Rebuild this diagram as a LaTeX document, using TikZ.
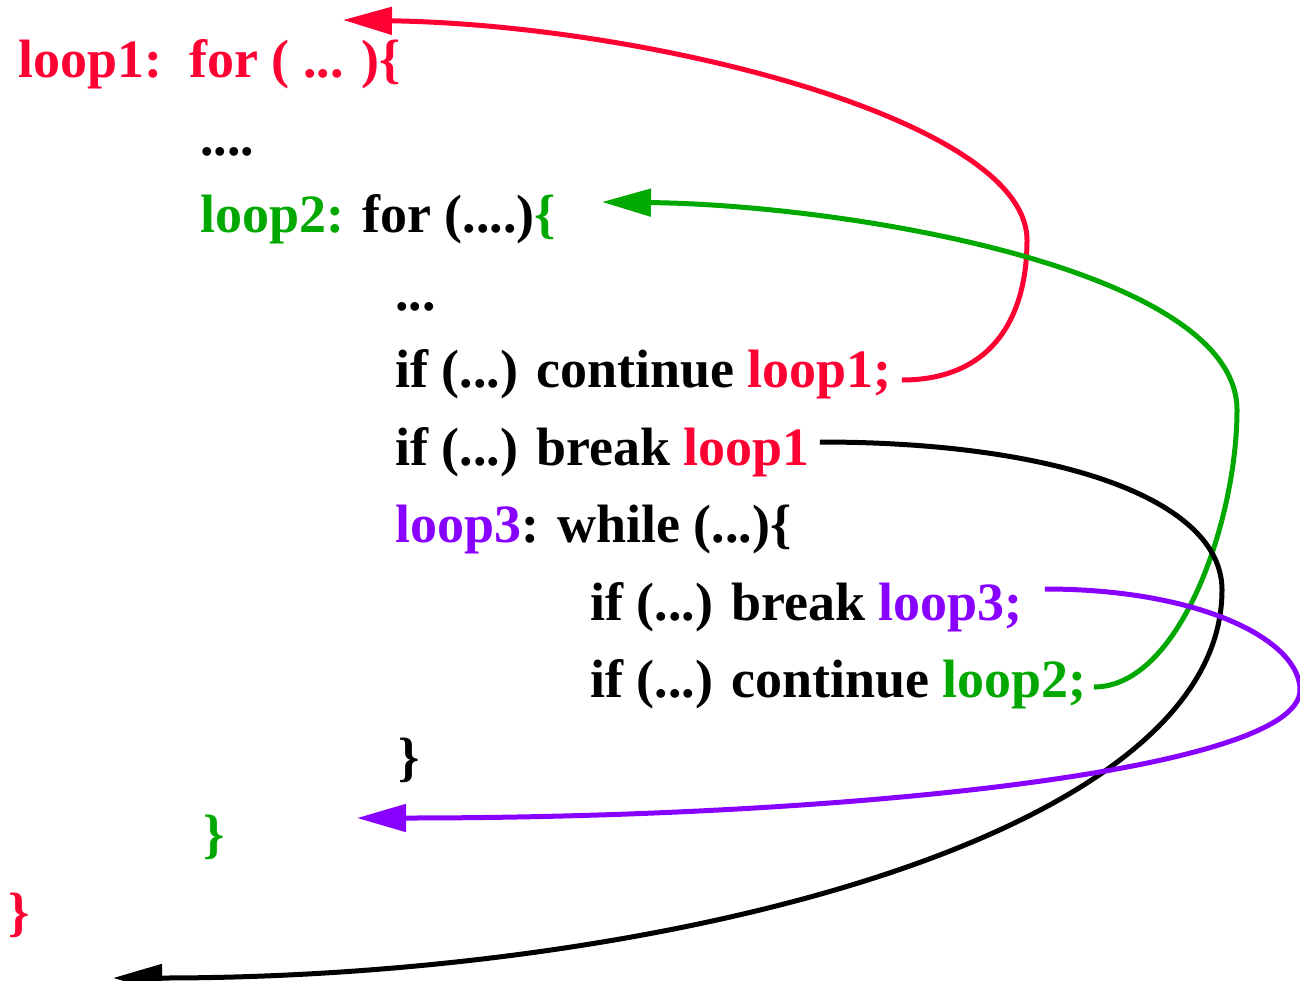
\documentclass[tikz,border=0pt]{standalone}
\usepackage{fontspec}
\setmainfont{Liberation Serif}
\usetikzlibrary{arrows.meta, calc}

\definecolor{loopred}{RGB}{255,0,51}
\definecolor{loopgreen}{RGB}{0,168,0}
\definecolor{looppurple}{RGB}{136,0,255}

\begin{document}
\begin{tikzpicture}[x=1pt, y=-1pt,
        codeline/.style={anchor=base west, inner sep=0pt, font=\fontsize{54}{65}\selectfont\bfseries},
        jump/.style={-{Triangle[length=49pt, width=27pt]}, line width=5pt},
    ]
        \useasboundingbox (0,0) rectangle (1300,980);

        % Code lines
        \node[codeline, text=loopred] (outer) at (18,77) {loop1:\ \ for ( ... )\{};
        \node[codeline] (dots1) at (200,155) {....};
        \node[codeline] (mid) at (200,232) {\textcolor{loopgreen}{loop2:} for (....)\textcolor{loopgreen}{\{}};
        \node[codeline] (dots2) at (395,310) {...};
        \node[codeline] (cont1) at (395,387) {if (...) continue \textcolor{loopred}{loop1;}};
        \node[codeline] (brk1) at (395,465) {if (...) break \textcolor{loopred}{loop1}};
        \node[codeline] (inner) at (395,542) {\textcolor{looppurple}{loop3}: while (...)\{};
        \node[codeline] (brk3) at (590,620) {if (...) break \textcolor{looppurple}{loop3;}};
        \node[codeline] (cont2) at (590,697) {if (...) continue \textcolor{loopgreen}{loop2;}};
        \node[codeline] (innerend) at (398,775) {\}};
        \node[codeline, text=loopgreen] (midend) at (203,852) {\}};
        \node[codeline, text=loopred] (outerend) at (8,930) {\}};

        % Jump targets
        \coordinate (toouter) at (343,20);
        \coordinate (tomid) at (602,202);
        \coordinate (pastinner) at (357,818);
        \coordinate (pastouter) at (113,978);

        % Jumps
        \draw[jump, loopred] ($(cont1.base east)+(10,-7)$) .. controls (990,380) and (1027,320) .. (1027,240)
            .. controls (1027,120) and (650,25) .. (toouter);
        \draw[jump, loopgreen] ($(cont2.base east)+(7,-10)$) .. controls (1180,687) and (1237,520) .. (1237,410)
            .. controls (1237,270) and (850,205) .. (tomid);
        \draw[jump, black] ($(brk1.base east)+(10,-23)$) .. controls (1060,442) and (1222,500) .. (1222,590)
            .. controls (1222,840) and (650,978) .. (pastouter);
        \draw[jump, looppurple] ($(brk3.base east)+(22,-31)$) .. controls (1200,589) and (1300,640) .. (1300,690)
            .. controls (1300,770) and (850,818) .. (pastinner);
\end{tikzpicture}
\end{document}
